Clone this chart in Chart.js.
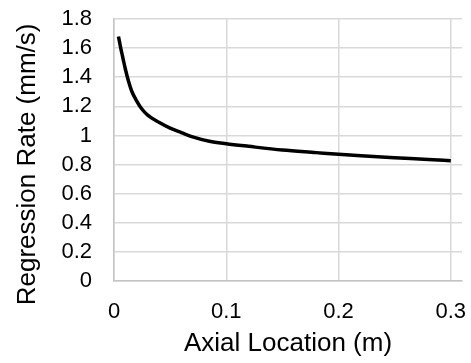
<!DOCTYPE html>
<html>
<head>
<meta charset="utf-8">
<script src="https://cdn.jsdelivr.net/npm/chart.js@4"></script>
<style>
  html, body { margin: 0; padding: 0; background: #fff; }
  #wrap { width: 471px; height: 363px; }
</style>
</head>
<body>
<div id="wrap"><canvas id="rateChart" width="471" height="363"></canvas></div>
<script>
// axial location (m) and regression rate (mm/s)
const axialLoc = [0.004, 0.006, 0.008, 0.010, 0.013, 0.016, 0.020, 0.025, 0.030, 0.040,
                  0.050, 0.060, 0.070, 0.085, 0.100, 0.120, 0.150, 0.180, 0.200, 0.220,
                  0.250, 0.280, 0.300];
const regRate  = [1.68, 1.60, 1.53, 1.46, 1.37, 1.30, 1.24, 1.18, 1.14, 1.09,
                  1.05, 1.02, 0.99, 0.96, 0.943, 0.925, 0.90, 0.882, 0.870, 0.860,
                  0.847, 0.835, 0.826];
const xTicks = [0, 0.1, 0.2, 0.3];

const points = axialLoc.map((x, i) => ({ x: x, y: regRate[i] }));

const ctx = document.getElementById('rateChart').getContext('2d');
const font = "'Liberation Sans', Arial, Helvetica, sans-serif";

new Chart(ctx, {
    type: 'scatter',
    data: {
        datasets: [{
            data: points,
            showLine: true,
            borderColor: '#000',
            borderWidth: 3.5,
            cubicInterpolationMode: 'monotone',
            pointRadius: 0,
            fill: false
        }]
    },
    options: {
        responsive: false,
        animation: false,
        layout: { padding: { top: 19, right: 9, left: 0, bottom: 0 } },
        plugins: { legend: { display: false }, tooltip: { enabled: false } },
        scales: {
            x: {
                type: 'linear',
                min: 0,
                max: 0.31,
                afterBuildTicks: (axis) => { axis.ticks = xTicks.map(v => ({ value: v })); },
                afterFit: (axis) => {
                    axis.height = 82;
                    axis.paddingLeft = 0;
                    axis.paddingRight = 0;
                },
                grid: { color: '#d9d9d9', lineWidth: 1.5, drawTicks: false },
                border: { color: '#c4c4c4', width: 1.5 },
                ticks: {
                    color: '#000', padding: 18, maxRotation: 0, autoSkip: false,
                    font: { family: font, size: 22 },
                    callback: (v) => String(+v.toFixed(2))
                },
                title: {
                    display: true,
                    text: 'Axial Location (m)',
                    color: '#000',
                    padding: { top: 0, bottom: 4 },
                    font: { family: font, size: 26 }
                }
            },
            y: {
                min: 0,
                max: 1.8,
                ticks: {
                    stepSize: 0.2, color: '#000', padding: 22, autoSkip: false,
                    font: { family: font, size: 22 },
                    callback: (v) => String(+v.toFixed(1))
                },
                afterFit: (axis) => {
                    axis.width = 114;
                    axis.paddingTop = 0;
                    axis.paddingBottom = 0;
                },
                grid: { color: '#d9d9d9', lineWidth: 1.5, drawTicks: false },
                border: { color: '#c4c4c4', width: 1.5 },
                title: {
                    display: true,
                    // trailing spaces nudge the rotated title down like the original
                    text: 'Regression Rate (mm/s)    ',
                    color: '#000',
                    padding: { top: 12, bottom: 0 },
                    font: { family: font, size: 26 }
                }
            }
        }
    }
});
</script>
</body>
</html>
